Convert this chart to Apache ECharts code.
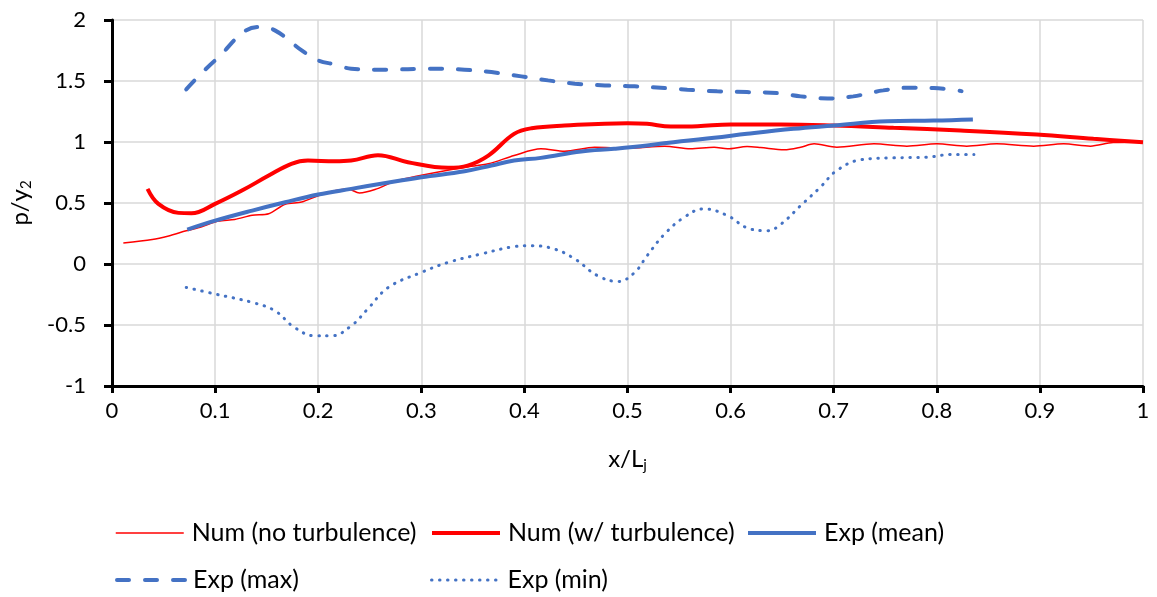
<!DOCTYPE html>
<html>
<head>
<meta charset="utf-8">
<script src="https://cdn.jsdelivr.net/npm/echarts@6/dist/echarts.min.js"></script>
<style>
  html, body { margin: 0; padding: 0; background: #fff; }
  #chart { width: 1157px; height: 597px; }
</style>
</head>
<body>
<div id="chart"></div>
<script>
// Pressure head along the jet, numerical vs. experimental: [x/Lj, p/y2]
const numNoTurb = [
  [0.011, 0.172], [0.039, 0.200], [0.055, 0.230], [0.072, 0.272], [0.087, 0.305],
  [0.103, 0.352], [0.119, 0.365], [0.136, 0.400], [0.152, 0.412], [0.168, 0.490],
  [0.184, 0.508], [0.200, 0.560], [0.216, 0.600], [0.229, 0.615], [0.240, 0.582],
  [0.255, 0.610], [0.275, 0.680], [0.294, 0.717], [0.342, 0.793], [0.365, 0.821],
  [0.390, 0.889], [0.416, 0.944], [0.439, 0.924], [0.468, 0.957], [0.500, 0.949],
  [0.536, 0.966], [0.561, 0.944], [0.584, 0.957], [0.597, 0.944], [0.616, 0.963],
  [0.629, 0.955], [0.652, 0.936], [0.668, 0.957], [0.681, 0.985], [0.703, 0.957],
  [0.739, 0.985], [0.771, 0.966], [0.800, 0.985], [0.829, 0.966], [0.858, 0.985],
  [0.894, 0.966], [0.923, 0.985], [0.949, 0.966], [0.971, 0.995], [1.000, 0.998]
];
const numTurb = [
  [0.0345, 0.616], [0.045, 0.493], [0.0645, 0.419], [0.077, 0.415], [0.100, 0.493],
  [0.126, 0.602], [0.152, 0.725], [0.174, 0.821], [0.190, 0.848], [0.216, 0.842],
  [0.232, 0.848], [0.258, 0.892], [0.287, 0.834], [0.326, 0.788], [0.345, 0.807],
  [0.365, 0.889], [0.390, 1.067], [0.407, 1.113], [0.439, 1.135], [0.500, 1.154],
  [0.519, 1.149], [0.542, 1.127], [0.568, 1.130], [0.600, 1.144], [0.649, 1.144],
  [0.700, 1.135], [0.758, 1.116], [0.823, 1.094], [0.897, 1.061], [0.952, 1.026],
  [1.000, 0.998]
];
const expMean = [
  [0.073, 0.282], [0.100, 0.355], [0.136, 0.438], [0.168, 0.506], [0.200, 0.569],
  [0.232, 0.616], [0.261, 0.657], [0.300, 0.711], [0.342, 0.760], [0.368, 0.807],
  [0.390, 0.848], [0.416, 0.870], [0.455, 0.922], [0.487, 0.944], [0.519, 0.971],
  [0.552, 1.007], [0.584, 1.034], [0.616, 1.067], [0.661, 1.108], [0.700, 1.135],
  [0.752, 1.171], [0.797, 1.176], [0.835, 1.185]
];
const expMax = [
  [0.072, 1.431], [0.100, 1.669], [0.142, 1.943], [0.158, 1.915], [0.184, 1.751],
  [0.200, 1.669], [0.216, 1.636], [0.232, 1.601], [0.261, 1.593], [0.313, 1.601],
  [0.342, 1.593], [0.368, 1.573], [0.397, 1.538], [0.423, 1.505], [0.449, 1.478],
  [0.478, 1.464], [0.507, 1.456], [0.536, 1.442], [0.558, 1.429], [0.587, 1.415],
  [0.616, 1.409], [0.645, 1.401], [0.668, 1.374], [0.694, 1.357], [0.719, 1.374],
  [0.748, 1.423], [0.774, 1.445], [0.797, 1.442], [0.824, 1.417]
];
const expMin = [
  [0.072, -0.192], [0.100, -0.246], [0.136, -0.315], [0.158, -0.383], [0.177, -0.520],
  [0.197, -0.589], [0.213, -0.589], [0.232, -0.507], [0.248, -0.369], [0.268, -0.192],
  [0.300, -0.069], [0.326, 0.013], [0.358, 0.082], [0.390, 0.142], [0.407, 0.150],
  [0.429, 0.123], [0.449, 0.041], [0.471, -0.096], [0.491, -0.143], [0.507, -0.069],
  [0.519, 0.068], [0.536, 0.246], [0.555, 0.383], [0.574, 0.452], [0.597, 0.397],
  [0.616, 0.296], [0.636, 0.273], [0.649, 0.328], [0.668, 0.479], [0.687, 0.629],
  [0.703, 0.766], [0.726, 0.854], [0.758, 0.870], [0.790, 0.875], [0.813, 0.897],
  [0.836, 0.897]
];

const seriesNames = ['Num (no turbulence)', 'Num (w/ turbulence)', 'Exp (mean)', 'Exp (max)', 'Exp (min)'];
const FONT = 'Lato';
const RED = '#ff0000';
const BLUE = '#4472c4';

const chart = echarts.init(document.getElementById('chart'), null, { renderer: 'canvas' });

// one legend block per entry so the entries sit on a fixed two-row grid
function legendAt(name, left, top, lineWidth) {
  return {
    data: [name], left: left, top: top, padding: 0,
    itemWidth: 68, itemHeight: 14, itemGap: 0,
    itemStyle: { opacity: 0 },
    lineStyle: { width: lineWidth },
    textStyle: { fontFamily: FONT, fontSize: 25, lineHeight: 30, color: '#000', padding: [0, 0, 0, 3] },
    selectedMode: false
  };
}

const axisNameRich = {
  a: { fontFamily: FONT, fontSize: 24, color: '#000', lineHeight: 28 },
  s: { fontFamily: FONT, fontSize: 15, color: '#000', lineHeight: 12, verticalAlign: 'bottom' }
};

chart.setOption({
  animation: false,
  backgroundColor: '#fff',
  grid: { left: 110, right: 14, top: 20, bottom: 211, containLabel: false },
  legend: [
    legendAt(seriesNames[0], 115, 518, 1.5),
    legendAt(seriesNames[1], 430, 518, 4),
    legendAt(seriesNames[2], 746, 518, 4),
    legendAt(seriesNames[3], 115, 565, 4),
    legendAt(seriesNames[4], 430, 565, 3)
  ],
  xAxis: {
    type: 'value', min: 0, max: 1, interval: 0.1,
    name: '{a|x/L}{s|j}', nameLocation: 'middle', nameGap: 59,
    nameTextStyle: { rich: axisNameRich },
    axisLine: { onZero: false, lineStyle: { color: '#000', width: 3 } },
    axisTick: { show: true, length: 7, lineStyle: { color: '#000', width: 3 } },
    axisLabel: { fontFamily: FONT, fontSize: 22, color: '#000', margin: 14,
      formatter: v => String(Math.round(v * 10) / 10) },
    splitLine: { show: true, lineStyle: { color: '#d9d9d9', width: 1.5 } }
  },
  yAxis: {
    type: 'value', min: -1, max: 2, interval: 0.5,
    name: '{a|p/y}{s|2}', nameLocation: 'middle', nameGap: 78, nameRotate: 90,
    nameTextStyle: { rich: axisNameRich },
    axisLine: { show: true, onZero: false, lineStyle: { color: '#000', width: 3 } },
    axisTick: { show: true, length: 8, lineStyle: { color: '#000', width: 3 } },
    axisLabel: { fontFamily: FONT, fontSize: 22, color: '#000', margin: 26 },
    splitLine: { show: true, lineStyle: { color: '#d9d9d9', width: 1.5 } }
  },
  series: [
    { name: seriesNames[0], type: 'line', data: numNoTurb, smooth: 0.3, symbol: 'none',
      lineStyle: { color: RED, width: 1.5 }, itemStyle: { color: RED } },
    { name: seriesNames[1], type: 'line', data: numTurb, smooth: 0.4, symbol: 'none',
      lineStyle: { color: RED, width: 4 }, itemStyle: { color: RED } },
    { name: seriesNames[2], type: 'line', data: expMean, smooth: 0.4, symbol: 'none',
      lineStyle: { color: BLUE, width: 4 }, itemStyle: { color: BLUE } },
    { name: seriesNames[3], type: 'line', data: expMax, smooth: 0.4, symbol: 'none',
      lineStyle: { color: BLUE, width: 4, type: [12, 16], cap: 'round' }, itemStyle: { color: BLUE } },
    { name: seriesNames[4], type: 'line', data: expMin, smooth: 0.4, symbol: 'none',
      lineStyle: { color: BLUE, width: 3, type: [0.5, 7.5], cap: 'round' }, itemStyle: { color: BLUE } }
  ]
});
</script>
</body>
</html>
